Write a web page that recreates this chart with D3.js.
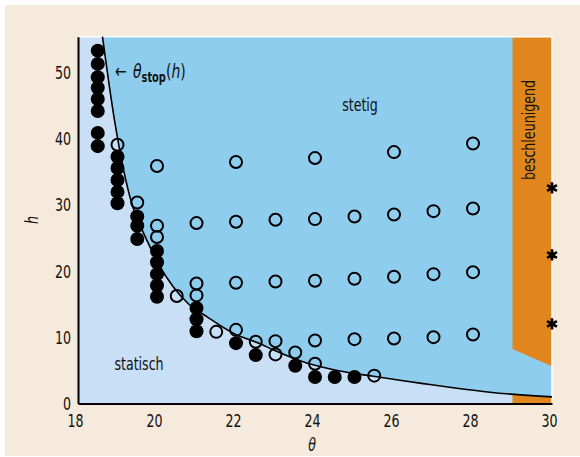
<!DOCTYPE html>
<html>
<head>
<meta charset="utf-8">
<style>
  body { margin: 0; background: #fff; }
  text { font-family: "Liberation Sans Narrow", "DejaVu Sans Condensed", "Open Sans", sans-serif; fill: #111; }
</style>
</head>
<body>
<div id="chart"></div>
<script src="https://d3js.org/d3.v7.min.js"></script>
<script>
// gemessene Punkte: gefüllt = statisch (gestoppt), offen = stetig fließend
const filledPoints = [
  [18.5, 53.2], [18.5, 51.2], [18.5, 49.2], [18.5, 47.6], [18.5, 45.9], [18.5, 44.1], [18.5, 40.8], [18.5, 38.8],
  [19, 37.2], [19, 35.5], [19, 33.7], [19, 31.9], [19, 30.2],
  [19.5, 28.2], [19.5, 26.8], [19.5, 24.8],
  [20, 23.0], [20, 21.3], [20, 19.5], [20, 17.8], [20, 16.1],
  [21, 14.4], [21, 12.7], [21, 10.9],
  [22, 9.1], [22.5, 7.3], [23.5, 5.7], [24, 4.0], [24.5, 4.0], [25, 4.0]
];
const openPoints = [
  [19, 39.0], [19.5, 30.3],
  [20, 35.8], [20, 26.8], [20, 25.1], [20.5, 16.2],
  [21, 27.2], [21, 18.1], [21, 16.3], [21.5, 10.8],
  [22, 36.4], [22, 27.4], [22, 18.2], [22, 11.1], [22.5, 9.3],
  [23, 27.7], [23, 18.4], [23, 9.4], [23, 7.4], [23.5, 7.7],
  [24, 37.0], [24, 27.8], [24, 18.5], [24, 9.5], [24, 6.0],
  [25, 28.2], [25, 18.8], [25, 9.7], [25.5, 4.2],
  [26, 37.9], [26, 28.5], [26, 19.1], [26, 9.8],
  [27, 29.0], [27, 19.5], [27, 10.0],
  [28, 39.2], [28, 29.4], [28, 19.8], [28, 10.4]
];
const starPoints = [[30, 32.5], [30, 22.4], [30, 12.0]];

// Kurve theta_stop(h)
const stopCurve = [
  [18.62, 55.3], [18.93, 42.5], [19.36, 30.2], [19.57, 26.9], [19.76, 24.4],
  [20.08, 20.6], [20.41, 17.6], [20.8, 15.0], [21.26, 13.1], [21.93, 10.6],
  [22.61, 9.0], [22.94, 8.1], [23.79, 6.1], [24.63, 4.9], [25.48, 4.1],
  [26.15, 3.5], [26.74, 3.0], [27.59, 2.3], [28.43, 1.7], [30, 1.0]
];

// beschleunigend-Bereich: ab theta = 29, Unterkante schräg
const accelStart = 29;
const accelEdge = [[29, 8.2], [30, 5.6]];

const xTicks = [18, 20, 22, 24, 26, 28, 30];
const yTicks = [0, 10, 20, 30, 40, 50];

const width = 580, height = 457;
const pLeft = 78, pRight = 552, pTop = 36.7, pBottom = 403.5;
const squeeze = 0.78; // schmale Schrift nachbilden

const x = d3.scaleLinear().domain([18, 30]).range([pLeft, pRight]);
const y = d3.scaleLinear().domain([0, 55.3]).range([pBottom, pTop]);

const svg = d3.select("#chart").append("svg")
  .attr("width", width)
  .attr("height", height);

// beiger Hintergrund
svg.append("rect")
  .attr("x", 5).attr("y", 5)
  .attr("width", 575).attr("height", 451)
  .attr("fill", "#f5eadb");

// statisch-Bereich (ganze Fläche hellblau)
svg.append("rect")
  .attr("x", pLeft).attr("y", pTop)
  .attr("width", pRight - pLeft).attr("height", pBottom - pTop)
  .attr("fill", "#c8dff5");

// stetig-Bereich oberhalb der Kurve
const above = d3.area()
  .x(d => x(d[0]))
  .y0(pTop)
  .y1(d => y(d[1]))
  .curve(d3.curveMonotoneX);
svg.append("path")
  .datum(stopCurve)
  .attr("d", above)
  .attr("fill", "#8ecdee");

// beschleunigend oben
const accelPoly = [[accelStart, 55.3], [30, 55.3], accelEdge[1], accelEdge[0]];
svg.append("path")
  .datum(accelPoly)
  .attr("d", d3.line().x(d => x(d[0])).y(d => y(d[1])))
  .attr("fill", "#e0861c");

// beschleunigend unten, unter der Kurve
svg.append("clipPath").attr("id", "accelClip")
  .append("rect")
  .attr("x", x(accelStart)).attr("y", pTop)
  .attr("width", x(30) - x(accelStart)).attr("height", pBottom - pTop);

const below = d3.area()
  .x(d => x(d[0]))
  .y0(y(0))
  .y1(d => y(d[1]))
  .curve(d3.curveMonotoneX);
svg.append("path")
  .datum(stopCurve)
  .attr("d", below)
  .attr("clip-path", "url(#accelClip)")
  .attr("fill", "#e0861c");

// weißer Rand oben und rechts
svg.append("path")
  .attr("d", `M${pLeft},${pTop}H${pRight}V${pBottom}`)
  .attr("fill", "none")
  .attr("stroke", "#fff")
  .attr("stroke-width", 1.5);

// Kurve
svg.append("path")
  .datum(stopCurve)
  .attr("d", d3.line().x(d => x(d[0])).y(d => y(d[1])).curve(d3.curveMonotoneX))
  .attr("fill", "none")
  .attr("stroke", "#000")
  .attr("stroke-width", 1.6);

// Punkte
svg.append("g")
  .selectAll("circle")
  .data(filledPoints)
  .join("circle")
  .attr("cx", d => x(d[0]))
  .attr("cy", d => y(d[1]))
  .attr("r", 7)
  .attr("fill", "#000");

svg.append("g")
  .selectAll("circle")
  .data(openPoints)
  .join("circle")
  .attr("cx", d => x(d[0]))
  .attr("cy", d => y(d[1]))
  .attr("r", 6)
  .attr("fill", "none")
  .attr("stroke", "#000")
  .attr("stroke-width", 2);

svg.append("g")
  .selectAll("path")
  .data(starPoints)
  .join("path")
  .attr("transform", d => `translate(${x(d[0])},${y(d[1])})`)
  .attr("d", d3.symbol(d3.symbolAsterisk, 90))
  .attr("fill", "none")
  .attr("stroke", "#000")
  .attr("stroke-width", 2.6);

// Achsen (ohne Tickstriche)
const xAxis = svg.append("g")
  .attr("transform", `translate(0,${pBottom})`)
  .call(d3.axisBottom(x).tickValues(xTicks).tickSize(0).tickPadding(11));
xAxis.select(".domain").attr("stroke", "#000").attr("stroke-width", 2);
xAxis.selectAll("text")
  .attr("dx", -3 / squeeze)
  .attr("transform", `scale(${squeeze},1)`)
  .style("font-size", "18px")
  .style("font-family", "'Liberation Sans Narrow', 'DejaVu Sans Condensed', sans-serif")
  .attr("fill", "#111");

const yAxis = svg.append("g")
  .attr("transform", `translate(${pLeft},0)`)
  .call(d3.axisLeft(y).tickValues(yTicks).tickSize(0).tickPadding(9));
yAxis.select(".domain").attr("stroke", "#000").attr("stroke-width", 2);
yAxis.selectAll("text")
  .attr("dy", "0.35em")
  .attr("transform", `scale(${squeeze},1)`)
  .style("font-size", "18px")
  .style("font-family", "'Liberation Sans Narrow', 'DejaVu Sans Condensed', sans-serif")
  .attr("fill", "#111");

// Achsentitel
svg.append("text")
  .attr("transform", `translate(${(pLeft + pRight) / 2 - 3},451) scale(${squeeze},1)`)
  .attr("text-anchor", "middle")
  .style("font-size", "18px")
  .style("font-style", "italic")
  .text("θ");

svg.append("text")
  .attr("transform", `translate(38,${(pTop + pBottom) / 2}) rotate(-90) scale(${squeeze},1)`)
  .attr("text-anchor", "middle")
  .style("font-size", "18px")
  .style("font-style", "italic")
  .text("h");

// Bereichsbeschriftungen
svg.append("text")
  .attr("transform", `translate(360,111) scale(${squeeze},1)`)
  .attr("text-anchor", "middle")
  .style("font-size", "18px")
  .text("stetig");

svg.append("text")
  .attr("transform", `translate(139,370) scale(${squeeze},1)`)
  .attr("text-anchor", "middle")
  .style("font-size", "18px")
  .text("statisch");

svg.append("text")
  .attr("transform", `translate(535,130) rotate(-90) scale(${squeeze},1)`)
  .attr("text-anchor", "middle")
  .style("font-size", "18px")
  .text("beschleunigend");

// theta_stop(h)
const lbl = svg.append("text")
  .attr("transform", `translate(115,78) scale(${squeeze},1)`)
  .style("font-size", "20px");
lbl.append("tspan").text("←");
lbl.append("tspan").attr("dx", 8).style("font-style", "italic").text("θ");
lbl.append("tspan").attr("dy", 4).style("font-size", "14px").style("font-weight", "bold").text("stop");
lbl.append("tspan").attr("dy", -4).text("(");
lbl.append("tspan").style("font-style", "italic").text("h");
lbl.append("tspan").text(")");
</script>
</body>
</html>
